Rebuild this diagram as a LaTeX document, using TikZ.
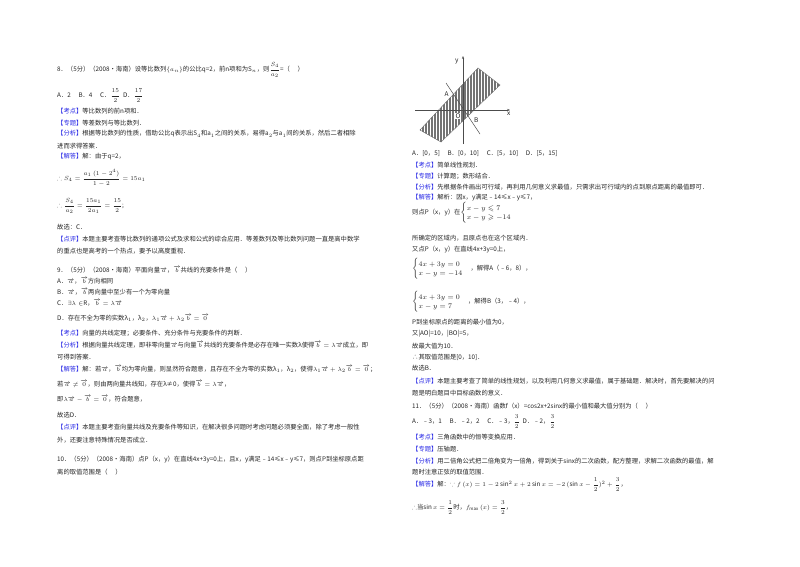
\documentclass[tikz,border=0pt]{standalone}
\usepackage{fontspec}
\usepackage{amsmath,amssymb}
\setmainfont{Noto Sans CJK SC}
\usetikzlibrary{arrows.meta}
\definecolor{kb}{RGB}{40,40,230}
\newcommand{\kk}[1]{\textcolor{kb}{【#1】}}
\newcommand{\va}{\overrightarrow{a}}
\newcommand{\vb}{\overrightarrow{b}}
\newcommand{\vz}{\overrightarrow{0}}
\newcommand{\sfr}[2]{\dfrac{#1}{#2}}
\begin{document}
\begin{tikzpicture}[x=1pt,y=-1pt,
  t/.style={anchor=west,inner sep=0pt,font=\fontsize{6.3}{7}\selectfont,text=black!85},
  ax/.style={draw=black!70,line width=0.5pt}]
\useasboundingbox (0,0) rectangle (800,566);
\fill[white] (0,0) rectangle (800,566);
% ---------- left column ----------
\node[t] (l1) at (57,70) {8．（5分）（2008•海南）设等比数列$\{a_n\}$的公比q=2，前n项和为S$_n$，则$\sfr{S_4}{a_2}$=（\quad\ ）};
\node[t] (l2) at (57,96) {A．2 \quad B．4 \quad C．$\sfr{15}{2}$ \ D．$\sfr{17}{2}$};
\node[t] (l3) at (57,111) {\kk{考点}等比数列的前n项和．};
\node[t] (l4) at (57,123) {\kk{专题}等差数列与等比数列．};
\node[t] (l5) at (57,134) {\kk{分析}根据等比数列的性质，借助公比q表示出S$_4$和a$_1$之间的关系，易得a$_2$与a$_1$间的关系，然后二者相除};
\node[t] (l6) at (57,146) {进而求得答案．};
\node[t] (l7) at (57,157) {\kk{解答}解：由于q=2，};
\node[t] (l8) at (57,178) {$\therefore S_4=\sfr{a_1\ (1-2^4)}{1-2}=15a_1$};
\node[t] (l9) at (57,206) {$\therefore \sfr{S_4}{a_2}=\sfr{15a_1}{2a_1}=\sfr{15}{2}$;};
\node[t] (l10) at (57,227) {故选：C．};
\node[t] (l11) at (57,239) {\kk{点评}本题主要考查等比数列的通项公式及求和公式的综合应用．等差数列及等比数列问题一直是高中数学};
\node[t] (l12) at (57,251) {的重点也是高考的一个热点，要予以高度重视．};
\node[t] (l13) at (57,270) {9．（5分）（2008•海南）平面向量$\va$，$\vb$共线的充要条件是（\quad\ ）};
\node[t] (l14) at (57,281) {A．$\va$，$\vb$方向相同};
\node[t] (l15) at (57,292) {B．$\va$，$\vb$两向量中至少有一个为零向量};
\node[t] (l16) at (57,303) {C．$\exists\lambda\in$R，$\vb=\lambda\va$};
\node[t] (l17) at (57,318) {D．存在不全为零的实数λ$_1$，λ$_2$，$\lambda_1\va+\lambda_2\vb=\vz$};
\node[t] (l18) at (57,333) {\kk{考点}向量的共线定理；必要条件、充分条件与充要条件的判断．};
\node[t] (l19) at (57,345) {\kk{分析}根据向量共线定理，即非零向量$\va$与向量$\vb$共线的充要条件是必存在唯一实数λ使得$\vb=\lambda\va$成立，即};
\node[t] (l20) at (57,357) {可得到答案．};
\node[t] (l21) at (57,369) {\kk{解答}解：若$\va$，$\vb$均为零向量，则显然符合题意，且存在不全为零的实数λ$_1$，λ$_2$，使得$\lambda_1\va+\lambda_2\vb=\vz$；};
\node[t] (l22) at (57,384) {若$\va\neq\vz$，则由两向量共线知，存在λ≠0，使得$\vb=\lambda\va$，};
\node[t] (l23) at (57,399) {即$\lambda\va-\vb=\vz$，符合题意，};
\node[t] (l24) at (57,415) {故选D．};
\node[t] (l25) at (57,427) {\kk{点评}本题主要考查向量共线及充要条件等知识，在解决很多问题时考虑问题必须要全面，除了考虑一般性};
\node[t] (l26) at (57,440) {外，还要注意特殊情况是否成立．};
\node[t] (l27) at (57,460) {10．（5分）（2008•海南）点P（x，y）在直线4x+3y=0上，且x，y满足﹣14≤x﹣y≤7，则点P到坐标原点距};
\node[t] (l28) at (57,472) {离的取值范围是（\quad\ ）};
% ---------- graph ----------
\begin{scope}
\clip (420,130) -- (478,68) -- (500,85) -- (441,142) -- cycle;
\foreach \i in {0,...,55} \draw[black!55,line width=0.35pt] (419+1.5*\i,60) -- (419+1.5*\i,150);
\end{scope}
\draw[black!60,line width=0.4pt] (420,130) -- (478,68) -- (500,85) -- (441,142) -- cycle;
\coordinate (xa0) at (415,110); \coordinate (xa1) at (510,110);
\coordinate (ya0) at (463,144); \coordinate (ya1) at (463,56);
\draw[ax,-{Stealth[length=3pt]}] (xa0) -- (xa1);
\draw[ax,-{Stealth[length=3pt]}] (ya0) -- (ya1);
\coordinate (la) at (446,83); \coordinate (lb) at (480,134);
\draw[ax] (la) -- (lb);
\node[t,font=\fontsize{6.5}{7}\selectfont\itshape] (gy) at (455,61) {y};
\node[t,font=\fontsize{6.5}{7}\selectfont\itshape] (gx) at (507,114) {x};
\node[t,font=\fontsize{6.5}{7}\selectfont\itshape,fill=white,inner sep=0.3pt] (gA) at (444,94) {A};
\node[t,font=\fontsize{6.5}{7}\selectfont\itshape,fill=white,inner sep=0.3pt] (gO) at (455,116) {O};
\node[t,font=\fontsize{6.5}{7}\selectfont\itshape] (gB) at (474,120) {B};
% ---------- right column ----------
\node[t] (r1) at (412,154) {A．[0，5] \quad B．[0，10] \quad C．[5，10] \quad D．[5，15]};
\node[t] (r2) at (412,165) {\kk{考点}简单线性规划．};
\node[t] (r3) at (412,176) {\kk{专题}计算题；数形结合．};
\node[t] (r4) at (412,187) {\kk{分析}先根据条件画出可行域，再利用几何意义求最值，只需求出可行域内的点到原点距离的最值即可．};
\node[t] (r5) at (412,198) {\kk{解答}解析：因x，y满足﹣14≤x﹣y≤7，};
\node[t] (r6) at (412,213) {则点P（x，y）在\scriptsize$\begin{cases}x-y\leqslant 7\\ x-y\geqslant -14\end{cases}$};
\node[t] (r7) at (412,238) {所确定的区域内，且原点也在这个区域内．};
\node[t] (r8) at (412,250) {又点P（x，y）在直线4x+3y=0上，};
\node[t] (r9) at (412,269) {\scriptsize$\begin{cases}4x+3y=0\\ x-y=-14\end{cases}$\fontsize{6.3}{7}\selectfont，解得A（﹣6，8），};
\node[t] (r10) at (412,302) {\scriptsize$\begin{cases}4x+3y=0\\ x-y=7\end{cases}$\fontsize{6.3}{7}\selectfont，解得B（3，﹣4），};
\node[t] (r11) at (412,322) {P到坐标原点的距离的最小值为0，};
\node[t] (r12) at (412,334) {又|AO|=10，|BO|=5，};
\node[t] (r13) at (412,346) {故最大值为10．};
\node[t] (r14) at (412,357) {∴其取值范围是[0，10]．};
\node[t] (r15) at (412,368) {故选B．};
\node[t] (r16) at (412,381) {\kk{点评}本题主要考查了简单的线性规划，以及利用几何意义求最值，属于基础题．解决时，首先要解决的问};
\node[t] (r17) at (412,393) {题是明白题目中目标函数的意义．};
\node[t] (r18) at (412,406) {11．（5分）（2008•海南）函数f（x）=cos2x+2sinx的最小值和最大值分别为（\quad\ ）};
\node[t] (r19) at (412,422) {A．﹣3，1 \quad B．﹣2，2 \quad C．﹣3，$\sfr{3}{2}$ \ D．﹣2，$\sfr{3}{2}$};
\node[t] (r20) at (412,437) {\kk{考点}三角函数中的恒等变换应用．};
\node[t] (r21) at (412,449) {\kk{专题}压轴题．};
\node[t] (r22) at (412,461) {\kk{分析}用二倍角公式把二倍角变为一倍角，得到关于sinx的二次函数，配方整理，求解二次函数的最值，解};
\node[t] (r23) at (412,472) {题时注意正弦的取值范围．};
\node[t] (r24) at (412,485) {\kk{解答}解：$\because f\,(x)=1-2\sin^2x+2\sin x=-2\,(\sin x-\sfr{1}{2})^2+\sfr{3}{2}$，};
\node[t] (r25) at (412,508) {$\therefore$当$\sin x=\sfr{1}{2}$时，$f_{\max}\,(x)=\sfr{3}{2}$，};
\end{tikzpicture}
\end{document}
